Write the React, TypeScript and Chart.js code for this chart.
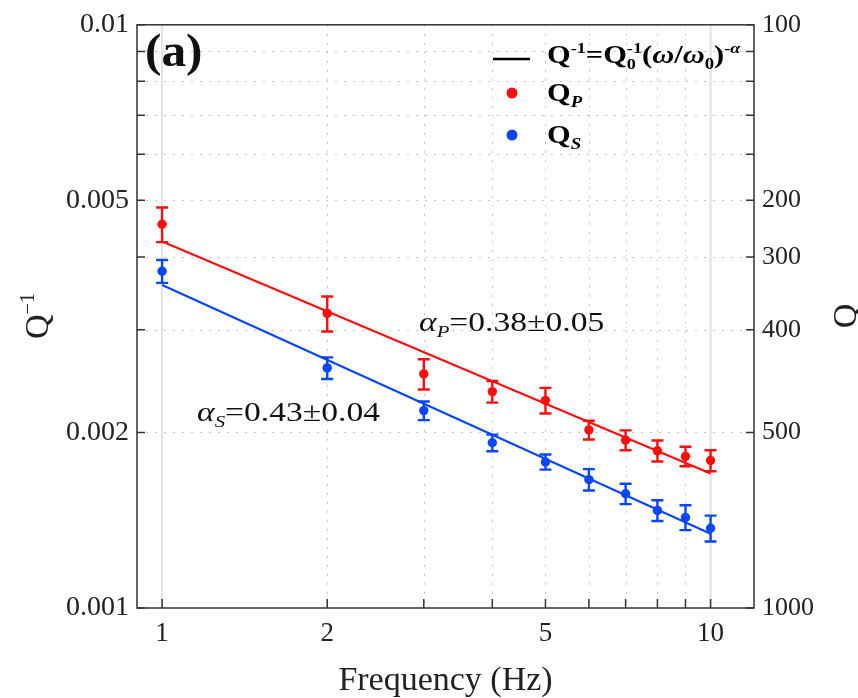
import React, { useEffect, useRef } from 'react';
import { Chart, registerables } from 'chart.js';
Chart.register(...registerables);

// ---------- data ----------
const frequencies = [1, 2, 3, 4, 5, 6, 7, 8, 9, 10];
const qpInv = [0.00455, 0.0032, 0.00252, 0.00235, 0.00227, 0.00202, 0.00194, 0.00186, 0.00182, 0.00179];
const qpErr = [0.00031, 0.00022, 0.00015, 0.0001, 0.000115, 0.000075, 0.000076, 0.000077, 0.00007, 0.000074];
const qsInv = [0.00378, 0.00258, 0.00218, 0.00192, 0.00178, 0.00166, 0.00157, 0.00147, 0.00143, 0.00137];
const qsErr = [0.00017, 0.00011, 0.00008, 0.000063, 0.000053, 0.00007, 0.000063, 0.00006, 0.00007, 0.00007];
const fitFreq = [1, 10];
const fitP = [0.00425, 0.0017];
const fitS = [0.00358, 0.00134];

const xTickValues = [1, 2, 3, 4, 5, 6, 7, 8, 9, 10];
const xLabelValues = [1, 2, 5, 10];
const xLabelTexts = ['1', '2', '5', '10'];
const yTickValues = [0.001, 0.002, 0.003, 0.004, 0.005, 0.006, 0.007, 0.008, 0.009, 0.01];
const yLeftLabelValues = [0.001, 0.002, 0.005, 0.01];
const yLeftLabelTexts = ['0.001', '0.002', '0.005', '0.01'];
const yRightLabelValues = [0.001, 0.002, 0.003, 0.004, 0.005, 0.01];
const yRightLabelTexts = ['1000', '500', '400', '300', '200', '100'];

const RED = '#ff0d0d';
const BLUE = '#0a46ff';
const FONT = '"Liberation Serif", "Times New Roman", serif';
const TXT = '#222222';

const lookup = (v: number, vals: number[], texts: string[]) => {
  for (let i = 0; i < vals.length; i++) if (Math.abs(vals[i] - v) < 1e-9 * Math.max(1, Math.abs(v)) + 1e-12) return texts[i];
  return '';
};

type Seg = { t: string; pos?: 'sup' | 'sub' | 'subsup'; sup?: string; it?: boolean; bold?: boolean };

function drawRich(ctx: CanvasRenderingContext2D, segs: Seg[], x: number, y: number, size: number, bold: boolean, color: string, dry = false, sx = 1): number {
  ctx.save();
  ctx.translate(x, y);
  ctx.scale(sx, 1);
  let cx = 0;
  ctx.fillStyle = color;
  ctx.textAlign = 'left';
  ctx.textBaseline = 'alphabetic';
  for (const s of segs) {
    const b = s.bold ?? bold;
    const font = (sz: number, it?: boolean) => `${it ? 'italic ' : ''}${b ? 'bold ' : ''}${sz}px ${FONT}`;
    if (!s.pos) {
      ctx.font = font(size, s.it);
      if (!dry) ctx.fillText(s.t, cx, 0);
      cx += ctx.measureText(s.t).width;
    } else if (s.pos === 'sup') {
      const sz = size * 0.6;
      ctx.font = font(sz, s.it);
      if (!dry) ctx.fillText(s.t, cx, -size * 0.4);
      cx += ctx.measureText(s.t).width;
    } else if (s.pos === 'sub') {
      const sz = size * 0.62;
      ctx.font = font(sz, s.it);
      if (!dry) ctx.fillText(s.t, cx, size * 0.22);
      cx += ctx.measureText(s.t).width;
    } else {
      const sz = size * 0.6;
      ctx.font = font(sz, s.it);
      const w1 = ctx.measureText(s.t).width;
      const w2 = ctx.measureText(s.sup || '').width;
      if (!dry) {
        ctx.fillText(s.t, cx, size * 0.22);
        ctx.fillText(s.sup || '', cx, -size * 0.4);
      }
      cx += Math.max(w1, w2);
    }
  }
  ctx.restore();
  return cx * sx;
}

const overlay = {
  id: 'overlay',
  beforeDatasetsDraw(chart: any) {
    const { ctx, chartArea: a, scales } = chart;
    const xs = scales.x, ys = scales.y;
    ctx.save();
    // dotted grid
    ctx.lineWidth = 1;
    ctx.strokeStyle = '#c4c4c4';
    ctx.setLineDash([2, 7]);
    for (const v of yTickValues) {
      if (v === 0.001 || v === 0.01) continue;
      const py = Math.round(ys.getPixelForValue(v)) + 0.5;
      ctx.beginPath(); ctx.moveTo(a.left, py); ctx.lineTo(a.right, py); ctx.stroke();
    }
    for (const v of xTickValues) {
      if (v === 1 || v === 10) continue;
      const px = Math.round(xs.getPixelForValue(v)) + 0.5;
      ctx.beginPath(); ctx.moveTo(px, a.top); ctx.lineTo(px, a.bottom); ctx.stroke();
    }
    ctx.setLineDash([]);
    ctx.strokeStyle = '#e2e2e2';
    ctx.lineWidth = 2;
    for (const v of [1, 10]) {
      const px = xs.getPixelForValue(v);
      ctx.beginPath(); ctx.moveTo(px, a.top); ctx.lineTo(px, a.bottom); ctx.stroke();
    }
    // error bars
    const drawErr = (vals: number[], errs: number[], color: string) => {
      ctx.strokeStyle = color;
      ctx.lineWidth = 2.4;
      for (let i = 0; i < frequencies.length; i++) {
        const px = xs.getPixelForValue(frequencies[i]);
        const top = ys.getPixelForValue(vals[i] + errs[i]);
        const bot = ys.getPixelForValue(vals[i] - errs[i]);
        ctx.beginPath();
        ctx.moveTo(px, top); ctx.lineTo(px, bot);
        ctx.moveTo(px - 6, top); ctx.lineTo(px + 6, top);
        ctx.moveTo(px - 6, bot); ctx.lineTo(px + 6, bot);
        ctx.stroke();
      }
    };
    drawErr(qpInv, qpErr, RED);
    drawErr(qsInv, qsErr, BLUE);
    ctx.restore();
  },
  afterDatasetsDraw(chart: any) {
    const { ctx, chartArea: a, scales } = chart;
    const xs = scales.x, ys = scales.y;
    ctx.save();
    // frame
    ctx.strokeStyle = '#333';
    ctx.lineWidth = 1.5;
    ctx.strokeRect(a.left, a.top, a.right - a.left, a.bottom - a.top);
    // inward ticks
    ctx.beginPath();
    for (const v of yTickValues) {
      const py = ys.getPixelForValue(v);
      ctx.moveTo(a.left, py); ctx.lineTo(a.left + 8, py);
      ctx.moveTo(a.right, py); ctx.lineTo(a.right - 8, py);
    }
    for (const v of xTickValues) {
      const px = xs.getPixelForValue(v);
      ctx.moveTo(px, a.bottom); ctx.lineTo(px, a.bottom - 9);
    }
    ctx.stroke();

    // panel label
    drawRich(ctx, [{ t: '(a)' }], 145, 66, 47, true, '#111', false, 1.05);

    // annotations
    drawRich(ctx, [{ t: 'α', it: true }, { t: 'P', pos: 'sub', it: true }, { t: '=0.38±0.05' }], 419, 331, 28, false, '#111', false, 1.2);
    drawRich(ctx, [{ t: 'α', it: true }, { t: 'S', pos: 'sub', it: true }, { t: '=0.43±0.04' }], 197, 421, 28, false, '#111', false, 1.2);

    // legend
    ctx.strokeStyle = '#000';
    ctx.lineWidth = 2.6;
    ctx.beginPath(); ctx.moveTo(493, 59); ctx.lineTo(530, 59); ctx.stroke();
    drawRich(ctx, [
      { t: 'Q' }, { t: '-1', pos: 'sup' }, { t: '=Q' }, { t: '0', pos: 'subsup', sup: '-1' },
      { t: '(' }, { t: 'ω', it: true }, { t: '/' }, { t: 'ω', it: true }, { t: '0', pos: 'sub' }, { t: ')' },
      { t: '-', pos: 'sup' }, { t: 'α', pos: 'sup', it: true },
    ], 547, 63, 26, true, '#000', false, 1.17);
    ctx.fillStyle = RED;
    ctx.beginPath(); ctx.arc(512, 93, 5.5, 0, Math.PI * 2); ctx.fill();
    ctx.fillStyle = BLUE;
    ctx.beginPath(); ctx.arc(512, 135, 5.5, 0, Math.PI * 2); ctx.fill();
    drawRich(ctx, [{ t: 'Q' }, { t: 'P', pos: 'sub', it: true }], 547, 101, 26, true, '#000', false, 1.17);
    drawRich(ctx, [{ t: 'Q' }, { t: 'S', pos: 'sub', it: true }], 547, 143, 26, true, '#000', false, 1.17);

    // axis titles
    const leftTitle: Seg[] = [{ t: 'Q' }, { t: '−1', pos: 'sup' }];
    ctx.save();
    ctx.translate(48, 316);
    ctx.rotate(-Math.PI / 2);
    const lw = drawRich(ctx, leftTitle, 0, 0, 34, false, TXT, true);
    drawRich(ctx, leftTitle, -lw / 2, 0, 34, false, TXT);
    ctx.restore();

    ctx.save();
    ctx.translate(856, 316);
    ctx.rotate(-Math.PI / 2);
    const rw = drawRich(ctx, [{ t: 'Q' }], 0, 0, 34, false, TXT, true);
    drawRich(ctx, [{ t: 'Q' }], -rw / 2, 0, 34, false, TXT);
    ctx.restore();

    const bw = drawRich(ctx, [{ t: 'Frequency (Hz)' }], 0, 0, 33, false, TXT, true, 1.03);
    drawRich(ctx, [{ t: 'Frequency (Hz)' }], (a.left + a.right) / 2 - bw / 2, 690, 33, false, TXT, false, 1.03);

    ctx.restore();
  },
};

export default function App() {
  const ref = useRef<HTMLCanvasElement>(null);
  useEffect(() => {
    const canvas = ref.current!;
    const chart = new Chart(canvas, {
      type: 'scatter',
      data: {
        datasets: [
          { type: 'line', data: fitFreq.map((f, i) => ({ x: f, y: fitP[i] })), borderColor: RED, borderWidth: 2.2, pointRadius: 0, fill: false },
          { type: 'line', data: fitFreq.map((f, i) => ({ x: f, y: fitS[i] })), borderColor: BLUE, borderWidth: 2.2, pointRadius: 0, fill: false },
          { type: 'scatter', data: frequencies.map((f, i) => ({ x: f, y: qpInv[i] })), backgroundColor: RED, borderColor: RED, pointRadius: 4.7, borderWidth: 0 },
          { type: 'scatter', data: frequencies.map((f, i) => ({ x: f, y: qsInv[i] })), backgroundColor: BLUE, borderColor: BLUE, pointRadius: 4.7, borderWidth: 0 },
        ] as any,
      },
      options: {
        animation: false,
        responsive: false,
        devicePixelRatio: 1,
        layout: { padding: { top: 22, left: 0, right: 0, bottom: 0 } },
        plugins: { legend: { display: false }, tooltip: { enabled: false } },
        scales: {
          x: {
            type: 'logarithmic', min: 0.9, max: 12,
            afterBuildTicks: (s: any) => { s.ticks = xTickValues.map((v) => ({ value: v })); },
            ticks: { autoSkip: false, maxRotation: 0, font: { family: FONT, size: 27 }, color: TXT, padding: 10, callback: (v: any) => lookup(Number(v), xLabelValues, xLabelTexts) },
            grid: { display: false, drawTicks: false },
            border: { display: false },
            afterFit: (s: any) => { s.height = 90; },
          },
          y: {
            type: 'logarithmic', position: 'left', min: 0.001, max: 0.01,
            afterBuildTicks: (s: any) => { s.ticks = yTickValues.map((v) => ({ value: v })); },
            ticks: { autoSkip: false, font: { family: FONT, size: 28 }, color: TXT, padding: 8, callback: (v: any) => lookup(Number(v), yLeftLabelValues, yLeftLabelTexts) },
            grid: { display: false, drawTicks: false },
            border: { display: false },
            afterFit: (s: any) => { s.width = 137; },
          },
          y2: {
            type: 'logarithmic', position: 'right', min: 0.001, max: 0.01,
            afterBuildTicks: (s: any) => { s.ticks = yTickValues.map((v) => ({ value: v })); },
            ticks: { autoSkip: false, font: { family: FONT, size: 26 }, color: TXT, padding: 8, callback: (v: any) => lookup(Number(v), yRightLabelValues, yRightLabelTexts) },
            grid: { display: false, drawTicks: false },
            border: { display: false },
            afterFit: (s: any) => { s.width = 104; },
          },
        },
      } as any,
      plugins: [overlay],
    });
    return () => chart.destroy();
  }, []);
  return (
    <div style={{ position: 'fixed', left: 0, top: 0, width: 858, height: 698, background: '#fff' }}>
      <canvas ref={ref} width={858} height={698} style={{ display: 'block', width: 858, height: 698 }} />
    </div>
  );
}
